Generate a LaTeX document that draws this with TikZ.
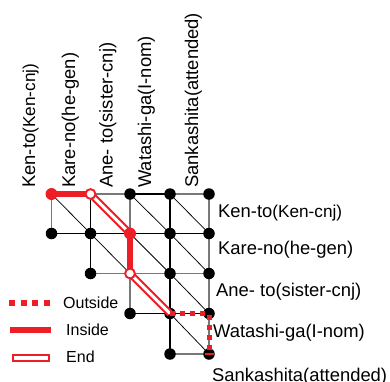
\documentclass[tikz,border=0pt]{standalone}
\usepackage{fontspec}
\setmainfont{Liberation Sans}
\definecolor{chartred}{RGB}{237,30,38}
\definecolor{gridgray}{RGB}{120,120,120}
\newcommand{\labfont}{\fontsize{18.4}{20}\selectfont}
\newcommand{\glossfont}{\fontsize{17.2}{19}\selectfont}
\newcommand{\legfont}{\fontsize{16}{18}\selectfont}
\begin{document}
\begin{tikzpicture}[x=1pt,y=-1pt,
  dot/.style={circle, fill=black, inner sep=0pt, minimum size=11.5pt},
  reddot/.style={circle, fill=chartred, inner sep=0pt, minimum size=12pt},
  enddot/.style={circle, draw=chartred, fill=white, line width=1.9pt, inner sep=0pt, minimum size=9.8pt},
  gline/.style={draw=gridgray, line width=1.2pt},
  kline/.style={draw=black, line width=1.1pt},
  diag/.style={draw=black, line width=0.75pt},
  insidepath/.style={draw=chartred, line width=5.7pt},
  outsidepath/.style={draw=chartred, line width=5pt, dash pattern=on 5pt off 5pt},
  endpath/.style={draw=chartred, line width=2.1pt, double=white, double distance=3pt},
  toplab/.style={font=\labfont, inner sep=0pt, rotate=90, anchor=base west},
  sidelab/.style={font=\labfont, inner sep=0pt, anchor=base west},
  leglab/.style={font=\legfont, inner sep=0pt, anchor=base west}]
\useasboundingbox (0,0) rectangle (390,381);

% chart grid points: row r, column c
\coordinate (p00) at (51.5,194);
\coordinate (p01) at (90.5,194);
\coordinate (p02) at (130,194);
\coordinate (p03) at (170,194);
\coordinate (p04) at (209,194);
\coordinate (p10) at (51.5,233.5);
\coordinate (p11) at (90.5,233.5);
\coordinate (p12) at (130,233.5);
\coordinate (p13) at (170,233.5);
\coordinate (p14) at (209,233.5);
\coordinate (p21) at (90.5,273.5);
\coordinate (p22) at (130,273.5);
\coordinate (p23) at (170,273.5);
\coordinate (p24) at (209,273.5);
\coordinate (p32) at (130,313.5);
\coordinate (p33) at (170,313.5);
\coordinate (p34) at (209,313.5);
\coordinate (p43) at (170,354);
\coordinate (p44) at (209,354);

% horizontal grid lines
\draw[gline] (p00) -- (p02);
\draw[kline] (p02) -- (p03);
\draw[gline] (p03) -- (p04);
\draw[kline] (p10) -- (p14);
\draw[gline] (p21) -- (p24);
\draw[kline] (p32) -- (p34);
\draw[gline] (p43) -- (p44);
% vertical grid lines
\draw[gline] (p00) -- (p10);
\draw[kline] (p01) -- (p21);
\draw[gline] (p02) -- (p32);
\draw[kline] (p03) -- (p43);
\draw[gline] (p04) -- (p44);
% cell diagonals
\foreach \a/\b in {p00/p11, p01/p12, p02/p13, p03/p14, p11/p22, p12/p23, p13/p24, p22/p33, p23/p34, p33/p44}
  \draw[diag] (\a) -- (\b);

% chart nodes
\foreach \p in {02,03,04,10,11,13,14,21,23,24,32,33,34,43,44}
  \node[dot] (d\p) at (p\p) {};

% highlighted paths
\draw[insidepath] (p00) -- (p01);
\draw[insidepath] (p12) -- (p22);
\draw[endpath] (p01) -- (p12);
\draw[endpath] (p22) -- (p33);
\draw[outsidepath] (p33) -- (p34) -- (p44);
\draw[chartred, line width=1.6pt] ([xshift=-4.5pt]p44) -- ([xshift=4.5pt]p44);
\node[reddot] (d00) at (p00) {};
\node[reddot] (d12) at (p12) {};
\node[enddot] (d01) at (p01) {};
\node[enddot] (d22) at (p22) {};

% column labels
\node[toplab] (t0) at (35,188) {Ken-to{\glossfont(Ken-cnj)}};
\node[toplab] (t1) at (75,188) {Kare-no(he-gen)};
\node[toplab] (t2) at (112.5,188) {Ane- to(sister-cnj)};
\node[toplab] (t3) at (151,188) {Watashi-ga(I-nom)};
\node[toplab] (t4) at (198,188) {Sankashita(attended)};
% row labels
\node[sidelab] (s0) at (218,217) {Ken-to{\glossfont(Ken-cnj)}};
\node[sidelab] (s1) at (218,254) {Kare-no(he-gen)};
\node[sidelab] (s2) at (216,296) {Ane- to(sister-cnj)};
\node[sidelab] (s3) at (213,337) {Watashi-ga(I-nom)};
\node[sidelab] (s4) at (212,381) {Sankashita(attended)};

% legend
\coordinate (lo1) at (9,303);
\coordinate (lo2) at (54,303);
\coordinate (li1) at (10,330);
\coordinate (li2) at (51,330);
\draw[draw=chartred, line width=5.7pt, dash pattern=on 6pt off 5.7pt] (lo1) -- (lo2);
\draw[draw=chartred, line width=5.7pt] (li1) -- (li2);
\draw[draw=chartred, fill=white, line width=2pt] (12.7,355) rectangle (49,361.3);
\node[leglab] (lgo) at (63,308) {Outside};
\node[leglab] (lgi) at (66,335) {Inside};
\node[leglab] (lge) at (66,362) {End};
\end{tikzpicture}
\end{document}
